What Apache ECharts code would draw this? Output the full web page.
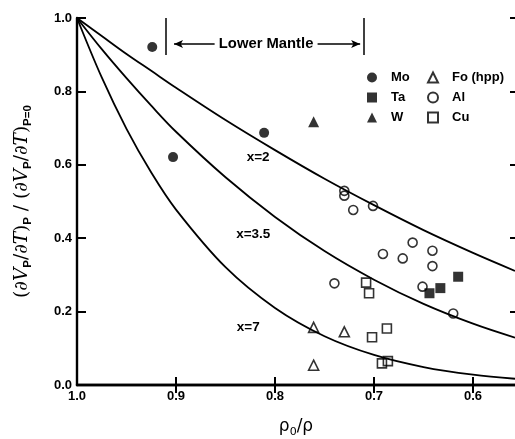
<!DOCTYPE html>
<html>
<head>
<meta charset="utf-8">
<script src="https://cdn.jsdelivr.net/npm/echarts@6/dist/echarts.min.js"></script>
<style>
html,body{margin:0;padding:0;background:#fff;}
#c{width:515px;height:439px;}
</style>
</head>
<body>
<div id="c"></div>
<script>
// ---- data ----
const rhoGrid   = [1.0, 0.975, 0.95, 0.925, 0.9, 0.85, 0.8, 0.75, 0.7, 0.65, 0.6, 0.5576];
const curveX2   = [1.0, 0.951, 0.902, 0.856, 0.81, 0.722, 0.64, 0.562, 0.49, 0.422, 0.36, 0.311];
const curveX35  = [1.0, 0.915, 0.836, 0.761, 0.69, 0.566, 0.458, 0.365, 0.287, 0.221, 0.167, 0.129];
const curveX7   = [1.0, 0.838, 0.698, 0.579, 0.478, 0.321, 0.21, 0.133, 0.082, 0.049, 0.028, 0.017];
const curveNames = ['x=2', 'x=3.5', 'x=7'];

const moPts = [[0.924, 0.921], [0.903, 0.621], [0.811, 0.687]];
const taPts = [[0.615, 0.295], [0.633, 0.264], [0.644, 0.250]];
const wPts  = [[0.761, 0.717]];
const foPts = [[0.761, 0.157], [0.730, 0.145], [0.761, 0.054]];
const alPts = [[0.730, 0.529], [0.730, 0.516], [0.721, 0.477], [0.701, 0.488], [0.661, 0.388],
               [0.691, 0.357], [0.671, 0.345], [0.641, 0.366], [0.641, 0.324], [0.740, 0.277],
               [0.651, 0.268], [0.620, 0.195]];
const cuPts = [[0.708, 0.279], [0.705, 0.250], [0.702, 0.130], [0.687, 0.154], [0.692, 0.059], [0.686, 0.065]];

const legendCol1 = ['Mo', 'Ta', 'W'];
const legendCol2 = ['Fo (hpp)', 'Al', 'Cu'];
const xTickVals = [1.0, 0.9, 0.8, 0.7, 0.6];
const mantleRange = [0.910, 0.710];
const mantleLabel = 'Lower Mantle';

// ---- chart ----
const FONT = 'Liberation Sans';
const chart = echarts.init(document.getElementById('c'));

function curve(vals) { return rhoGrid.map((r, i) => [r, vals[i]]); }

const lineBase = {
  type: 'line', smooth: 0.35, symbol: 'none', silent: true,
  lineStyle: { color: '#000', width: 1.8 }, z: 2
};
const curveLabelPos = [[0.817, 0.621], [0.822, 0.411], [0.827, 0.158]];

const series = [
  Object.assign({}, lineBase, {
    name: 'c2', data: curve(curveX2),
    markLine: {
      silent: true, symbol: 'none', animation: false,
      lineStyle: { color: '#000', width: 1.5, type: 'solid' }, label: { show: false },
      data: [
        [{ coord: [mantleRange[0], 1.0] }, { coord: [mantleRange[0], 0.899] }],
        [{ coord: [mantleRange[1], 1.0] }, { coord: [mantleRange[1], 0.899] }],
        [{ coord: [0.861, 0.929], symbol: 'none' }, { coord: [0.902, 0.929], symbol: 'arrow', symbolSize: [6, 9] }],
        [{ coord: [0.757, 0.929], symbol: 'none' }, { coord: [0.714, 0.929], symbol: 'arrow', symbolSize: [6, 9] }]
      ]
    },
    markPoint: {
      silent: true, animation: false, symbol: 'circle', symbolSize: 0,
      label: { show: true, position: 'inside', color: '#000', fontFamily: FONT, fontWeight: 'bold', fontSize: 13.5 },
      data: [
        { coord: [0.809, 0.929], value: mantleLabel, label: { formatter: mantleLabel, fontSize: 14.8 } },
        { coord: curveLabelPos[0], label: { formatter: curveNames[0] } },
        { coord: curveLabelPos[1], label: { formatter: curveNames[1] } },
        { coord: curveLabelPos[2], label: { formatter: curveNames[2] } }
      ]
    }
  }),
  Object.assign({}, lineBase, { name: 'c35', data: curve(curveX35) }),
  Object.assign({}, lineBase, { name: 'c7', data: curve(curveX7) }),
];

const filled = { color: '#000' };
const open = { color: 'rgba(255,255,255,0)', borderColor: '#000', borderWidth: 1.6 };
series.push(
  { type: 'scatter', name: legendCol1[0], data: moPts, symbol: 'circle', symbolSize: 10, itemStyle: filled, z: 5 },
  { type: 'scatter', name: legendCol1[1], data: taPts, symbol: 'rect', symbolSize: 10, itemStyle: filled, z: 5 },
  { type: 'scatter', name: legendCol1[2], data: wPts, symbol: 'triangle', symbolSize: 11, itemStyle: filled, z: 5 },
  { type: 'scatter', name: legendCol2[0], data: foPts, symbol: 'triangle', symbolSize: 10, itemStyle: open, z: 5 },
  { type: 'scatter', name: legendCol2[1], data: alPts, symbol: 'circle', symbolSize: 9, itemStyle: open, z: 5 },
  { type: 'scatter', name: legendCol2[2], data: cuPts, symbol: 'rect', symbolSize: 9, itemStyle: open, z: 5 }
);

const legendBase = {
  orient: 'vertical', itemWidth: 10, itemHeight: 10, itemGap: 7,
  selectedMode: false, padding: 0,
  textStyle: { fontFamily: FONT, fontWeight: 'bold', fontSize: 13, color: '#000', padding: [0, 0, 0, 9] }
};

const axisLine = { show: true, lineStyle: { color: '#000', width: 2.4 } };
const tickStyle = { color: '#000', width: 2 };

chart.setOption({
  animation: false,
  backgroundColor: '#fff',
  grid: { left: 77, top: 18, right: 0, bottom: 54, outerBoundsMode: 'none', containLabel: false },
  legend: [
    Object.assign({}, legendBase, { left: 367, top: 71, data: legendCol1 }),
    Object.assign({}, legendBase, { left: 427, top: 71, data: legendCol2 })
  ],
  xAxis: [
    {
      type: 'value', inverse: true, min: 0.5576, max: 1.0, position: 'bottom',
      axisLine: axisLine, splitLine: { show: false },
      axisTick: { show: true, inside: true, length: 8, lineStyle: tickStyle, customValues: xTickVals.slice(1) },
      axisLabel: { show: true, margin: 5, customValues: xTickVals, formatter: v => v.toFixed(1),
                   fontFamily: FONT, fontWeight: 'bold', fontSize: 13, color: '#000' },
      name: '{a|ρ}{s|0}{a|/ρ}', nameLocation: 'middle', nameGap: 31,
      nameTextStyle: {
        color: '#000',
        rich: {
          a: { fontFamily: 'DejaVu Sans', fontSize: 17, color: '#000', lineHeight: 22 },
          s: { fontFamily: 'DejaVu Sans', fontSize: 11, color: '#000', lineHeight: 12, verticalAlign: 'bottom' }
        }
      }
    },
    {
      type: 'value', inverse: true, min: 0.5576, max: 1.0, position: 'top',
      axisLine: axisLine, splitLine: { show: false },
      axisTick: { show: true, inside: true, length: 8, lineStyle: tickStyle, customValues: xTickVals.slice(1) },
      axisLabel: { show: false }
    }
  ],
  yAxis: [
    {
      type: 'value', min: 0, max: 1.0, interval: 0.2, position: 'left',
      axisLine: axisLine, splitLine: { show: false },
      axisTick: { show: true, inside: true, length: 9, lineStyle: tickStyle },
      axisLabel: { margin: 5, formatter: v => v.toFixed(1), fontFamily: FONT, fontWeight: 'bold', fontSize: 13, color: '#000' },
      name: '{n|(∂}{i|V}{s|P}{n|/∂}{i|T}{n|)}{s|P}{n| / (∂}{i|V}{s|P}{n|/∂}{i|T}{n|)}{s|P=0}',
      nameLocation: 'middle', nameRotate: 90, nameGap: 43,
      nameTextStyle: {
        color: '#000',
        rich: {
          n: { fontFamily: 'DejaVu Serif', fontSize: 18.5, color: '#000', lineHeight: 24 },
          i: { fontFamily: 'DejaVu Serif', fontStyle: 'italic', fontSize: 18.5, color: '#000', lineHeight: 24 },
          s: { fontFamily: FONT, fontWeight: 'bold', fontSize: 11.5, color: '#000', lineHeight: 13, verticalAlign: 'bottom' }
        }
      }
    },
    {
      type: 'value', min: 0, max: 1.0, interval: 0.2, position: 'right',
      axisLine: { show: false }, splitLine: { show: false },
      axisTick: { show: true, inside: true, length: 5, lineStyle: tickStyle },
      axisLabel: { show: false }
    }
  ],
  series: series
});
</script>
</body>
</html>
